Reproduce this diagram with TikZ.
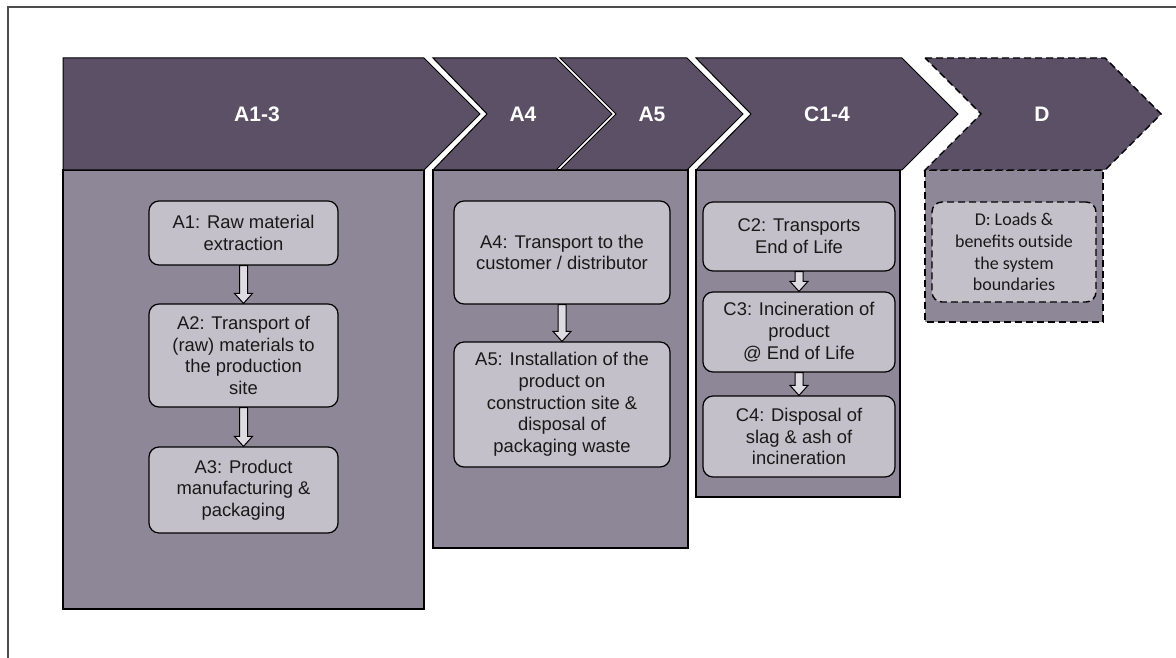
\documentclass[tikz,border=0pt]{standalone}
\usepackage{fontspec}
\setmainfont{Liberation Sans}
\newfontfamily\carlito{Carlito}
\usepackage{tikz}
\usetikzlibrary{calc}
\definecolor{bandPurple}{RGB}{92,80,103}
\definecolor{panelPurple}{RGB}{142,135,152}
\definecolor{boxGrey}{RGB}{196,192,201}
\definecolor{flowGrey}{RGB}{222,220,226}
\definecolor{textDark}{RGB}{25,25,25}
\tikzset{
	band/.style={fill=bandPurple, draw=black, line width=1pt},
	bandlabel/.style={text=white, font=\fontsize{21}{24}\selectfont\bfseries},
	panel/.style={fill=panelPurple, draw=black, line width=1.2pt},
	stage/.style={rounded corners=10pt, draw=black, fill=boxGrey, line width=1.2pt, align=center, text=textDark, inner sep=0pt, font=\fontsize{18.4}{21.7}\selectfont},
	flow/.style={fill=flowGrey, draw=black, line width=1pt},
	outside/.style={dash pattern=on 7pt off 4pt, line width=1.4pt},
	frame/.style={draw=black!70, line width=1.5pt}
}
% chevron in the top band: [style]{left x}{right x}{notch depth}{name}{label x}{label}
\newcommand{\Chevron}[7][]{%
	\edef\chL{#2}%
	\edef\chR{#3}%
	\edef\chN{#4}%
	\filldraw[band, #1] (\chL,58) -- (\chR,58) -- (\chR+56,114) -- (\chR,170) -- (\chL,170) -- (\chL+\chN,114) -- cycle;
	\node[bandlabel] (#5) at (#6,114) {#7};
}
% hollow block arrow between two stages
\newcommand{\Flow}[2]{%
	\filldraw[flow] ($ (#1.south)+(-4,0) $) -- ($ (#2.north)+(-4,-10) $) -- ($ (#2.north)+(-9,-10) $) -- (#2.north) -- ($ (#2.north)+(9,-10) $) -- ($ (#2.north)+(4,-10) $) -- ($ (#1.south)+(4,0) $) -- cycle;
}
\begin{document}
\begin{tikzpicture}[x=1pt, y=-1pt]

	\useasboundingbox (0,0) rectangle (1176,658);
	\draw[frame] (1176,7) -- (8,7) -- (8,658);

	% module panels
	\filldraw[panel] (63,170) rectangle (424,609);
	\filldraw[panel] (433,170) rectangle (688,548);
	\filldraw[panel] (696,170) rectangle (900,497);
	\filldraw[panel, outside] (925,170) rectangle (1103,322);

	% top band
	\Chevron{63}{424}{0}{mA}{257}{A1-3}
	\Chevron{433}{556}{54}{mAfour}{523}{A4}
	\Chevron{560}{687}{56}{mAfive}{652}{A5}
	\Chevron{696}{902}{55}{mC}{827}{C1-4}
	\Chevron[outside]{925}{1105}{56}{mD}{1042}{D}

	% A1-3
	\node[stage, minimum width=189pt, minimum height=64pt] (a1) at (243.5,233) {A1: Raw material\\extraction};
	\node[stage, minimum width=189pt, minimum height=103pt] (a2) at (243.5,355.5) {A2: Transport of\\(raw) materials to\\the production\\site};
	\node[stage, minimum width=189pt, minimum height=86pt] (a3) at (243.5,490) {A3: Product\\manufacturing \&\\packaging};

	% A4, A5
	\node[stage, minimum width=216pt, minimum height=103pt] (a4) at (562,252.5) {A4: Transport to the\\customer / distributor};
	\node[stage, minimum width=216pt, minimum height=125pt] (a5) at (562,404.5) {A5: Installation of the\\product on\\construction site \&\\disposal of\\packaging waste};

	% C1-4
	\node[stage, minimum width=192pt, minimum height=69pt] (c2) at (799,236.5) {C2: Transports\\End of Life};
	\node[stage, minimum width=192pt, minimum height=80pt] (c3) at (799,332) {C3: Incineration of\\product\\@ End of Life};
	\node[stage, minimum width=192pt, minimum height=81pt] (c4) at (799,436.5) {C4: Disposal of\\slag \& ash of\\incineration};

	% D
	\node[stage, outside, minimum width=164pt, minimum height=100pt, font=\carlito\fontsize{18}{21.7}\selectfont] (d) at (1014,252) {D: Loads \&\\benefits outside\\the system\\boundaries};

	\Flow{a1}{a2}
	\Flow{a2}{a3}
	\Flow{a4}{a5}
	\Flow{c2}{c3}
	\Flow{c3}{c4}

\end{tikzpicture}
\end{document}
